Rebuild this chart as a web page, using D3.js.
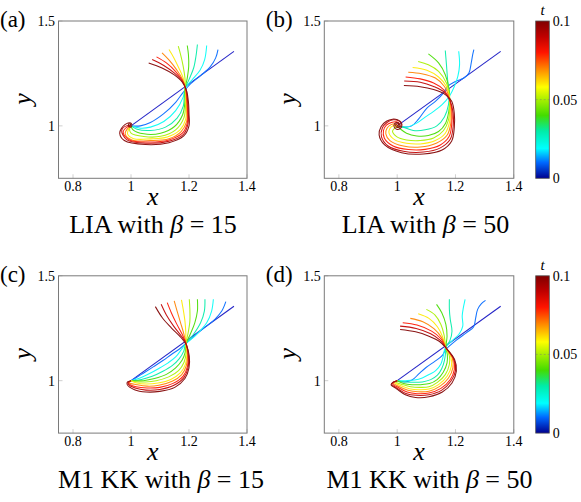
<!DOCTYPE html>
<html>
<head>
<meta charset="utf-8">
<script src="https://cdn.jsdelivr.net/npm/d3@7"></script>
</head>
<body style="margin:0">
<svg id="chart" width="581" height="502"></svg>
<script>
// time of each snapshot (colour of each filament)
const times = [0, 0.01, 0.02, 0.03, 0.04, 0.05, 0.06, 0.07, 0.08, 0.09, 0.1];
const xTicks = [0.8, 1, 1.2, 1.4];
const xTickLabels = ["0.8", "1", "1.2", "1.4"];
const yTicks = [1, 1.5];
const yTickLabels = ["1", "1.5"];
const barTicks = [0, 0.05, 0.1];
const barTickLabels = ["0", "0.05", "0.1"];
const panelLabels = ["(a)", "(b)", "(c)", "(d)"];
const methods = ["LIA", "LIA", "M1 KK", "M1 KK"];
const betas = [15, 50, 15, 50];

// jet-like colormap
const cmapStops = [0, 0.1, 0.19, 0.3, 0.4, 0.5, 0.58, 0.69, 0.8, 0.9, 1];
const cmapColors = ["#00008f", "#0068ff", "#00ffff", "#00eca8", "#44dc00", "#a8f000", "#ffff00", "#ff8c00", "#ff1400", "#c00000", "#800000"];

// filament snapshots, one list of (x, y) points per time, panel (a) LIA beta=15
const curvesA = [
  [[1,1],[1.355,1.355]],
  [[1.000,1.000],[1.032,1.000],[1.067,1.016],[1.113,1.058],[1.154,1.112],[1.180,1.160],[1.206,1.201],[1.240,1.240],[1.273,1.281],[1.292,1.324],[1.300,1.364]],
  [[1.000,1.000],[1.032,0.989],[1.067,0.994],[1.113,1.021],[1.154,1.073],[1.180,1.137],[1.188,1.181],[1.211,1.220],[1.238,1.265],[1.254,1.316],[1.261,1.383]],
  [[1.000,1.000],[1.021,0.984],[1.067,0.978],[1.119,0.994],[1.159,1.037],[1.180,1.093],[1.186,1.176],[1.201,1.224],[1.216,1.276],[1.224,1.332],[1.229,1.388]],
  [[1.000,1.000],[1.007,0.981],[1.044,0.962],[1.102,0.965],[1.150,0.997],[1.178,1.053],[1.186,1.117],[1.186,1.173],[1.194,1.228],[1.199,1.284],[1.198,1.340],[1.194,1.383]],
  [[1.000,1.000],[0.995,0.987],[1.000,0.965],[1.044,0.949],[1.102,0.950],[1.154,0.981],[1.182,1.037],[1.188,1.093],[1.188,1.141],[1.187,1.181],[1.186,1.228],[1.180,1.284],[1.171,1.340],[1.163,1.380]],
  [[1.000,1.000],[0.992,0.984],[0.988,0.962],[1.009,0.939],[1.067,0.938],[1.125,0.947],[1.169,0.981],[1.188,1.029],[1.191,1.085],[1.189,1.137],[1.187,1.181],[1.180,1.228],[1.165,1.276],[1.148,1.324],[1.131,1.364]],
  [[1.000,1.000],[0.988,0.987],[0.980,0.962],[1.003,0.933],[1.067,0.930],[1.131,0.939],[1.173,0.973],[1.192,1.021],[1.193,1.077],[1.191,1.133],[1.188,1.176],[1.177,1.224],[1.157,1.268],[1.133,1.311],[1.107,1.348]],
  [[1.000,1.000],[0.986,0.994],[0.973,0.968],[0.995,0.933],[1.061,0.923],[1.131,0.933],[1.177,0.965],[1.194,1.013],[1.195,1.069],[1.193,1.125],[1.189,1.173],[1.177,1.217],[1.154,1.259],[1.122,1.300],[1.088,1.329]],
  [[1.000,1.000],[0.984,1.000],[0.968,0.978],[0.986,0.933],[1.055,0.917],[1.131,0.927],[1.180,0.958],[1.196,1.006],[1.198,1.061],[1.195,1.120],[1.191,1.169],[1.177,1.212],[1.150,1.251],[1.113,1.288],[1.073,1.316]],
  [[0.995,1.002],[0.999,1.005],[0.995,1.010],[0.991,1.005],[0.993,0.997],[1.000,0.995],[1.003,1.005],[0.999,1.014],[0.990,1.014],[0.979,1.006],[0.968,0.990],[0.961,0.965],[0.977,0.930],[1.050,0.911],[1.131,0.920],[1.182,0.952],[1.200,1.000],[1.200,1.058],[1.198,1.115],[1.192,1.165],[1.177,1.208],[1.148,1.244],[1.107,1.276],[1.061,1.300]]
];

// panel (b) LIA beta=50
const curvesB = [
  [[1,1],[1.355,1.355]],
  [[1.000,1.000],[1.021,0.994],[1.050,1.000],[1.073,1.032],[1.102,1.085],[1.131,1.117],[1.154,1.149],[1.173,1.188],[1.200,1.212],[1.229,1.228],[1.246,1.252],[1.254,1.300],[1.259,1.340],[1.263,1.364]],
  [[1.000,1.000],[1.032,0.994],[1.067,1.013],[1.096,1.042],[1.125,1.069],[1.154,1.101],[1.180,1.144],[1.196,1.188],[1.208,1.236],[1.214,1.292],[1.211,1.356]],
  [[1.000,1.000],[1.021,0.994],[1.055,0.978],[1.096,0.981],[1.136,1.000],[1.162,1.042],[1.176,1.101],[1.178,1.157],[1.173,1.220],[1.169,1.292],[1.165,1.359]],
  [[1.000,1.000],[1.012,0.984],[1.032,0.965],[1.067,0.952],[1.107,0.954],[1.142,0.973],[1.166,1.013],[1.177,1.069],[1.180,1.125],[1.178,1.173],[1.165,1.244],[1.142,1.300],[1.107,1.343]],
  [[1.000,1.000],[0.992,0.990],[0.984,0.974],[0.998,0.949],[1.032,0.933],[1.079,0.930],[1.125,0.942],[1.159,0.978],[1.176,1.029],[1.180,1.085],[1.179,1.141],[1.169,1.204],[1.142,1.260],[1.107,1.291],[1.072,1.307]],
  [[1.000,1.000],[0.986,1.000],[0.975,0.987],[0.972,0.965],[0.992,0.933],[1.032,0.917],[1.079,0.914],[1.131,0.930],[1.165,0.965],[1.180,1.021],[1.182,1.077],[1.180,1.133],[1.169,1.188],[1.142,1.233],[1.102,1.265],[1.053,1.278]],
  [[1.000,1.000],[0.993,1.010],[0.979,1.006],[0.965,0.989],[0.961,0.962],[0.975,0.930],[1.021,0.904],[1.079,0.899],[1.134,0.917],[1.171,0.955],[1.184,1.013],[1.185,1.073],[1.180,1.128],[1.162,1.188],[1.131,1.228],[1.084,1.249],[1.038,1.256]],
  [[1.000,1.000],[1.007,1.010],[0.998,1.019],[0.980,1.016],[0.963,1.003],[0.953,0.978],[0.956,0.941],[0.986,0.904],[1.038,0.887],[1.096,0.888],[1.148,0.909],[1.178,0.949],[1.187,1.005],[1.188,1.069],[1.180,1.125],[1.159,1.173],[1.125,1.204],[1.079,1.224],[1.029,1.233]],
  [[1.000,1.000],[1.009,0.994],[1.014,1.010],[1.005,1.024],[0.986,1.029],[0.965,1.016],[0.949,0.990],[0.946,0.949],[0.969,0.904],[1.021,0.879],[1.090,0.875],[1.148,0.895],[1.182,0.936],[1.192,0.997],[1.192,1.061],[1.182,1.117],[1.162,1.160],[1.125,1.188],[1.079,1.208],[1.024,1.214]],
  [[1.000,1.000],[1.005,1.005],[1.001,1.010],[0.995,1.005],[0.997,0.995],[1.003,0.992],[1.009,1.000],[1.007,1.011],[0.998,1.016],[0.990,1.008],[0.990,0.994],[0.998,0.984],[1.009,0.986],[1.016,1.000],[1.013,1.018],[1.001,1.029],[0.984,1.032],[0.963,1.022],[0.945,0.997],[0.938,0.957],[0.957,0.909],[1.015,0.872],[1.090,0.866],[1.154,0.885],[1.187,0.928],[1.196,0.994],[1.196,1.058],[1.187,1.117],[1.165,1.149],[1.125,1.173],[1.079,1.187],[1.023,1.192]]
];

// panel (c) M1 KK beta=15
const curvesC = [
  [[1,1],[1.355,1.355]],
  [[1.000,1.000],[1.020,1.016],[1.045,1.038],[1.078,1.067],[1.110,1.096],[1.139,1.125],[1.166,1.150],[1.188,1.176],[1.220,1.215],[1.255,1.255],[1.290,1.294],[1.313,1.332],[1.327,1.377]],
  [[1.000,1.000],[1.031,1.013],[1.064,1.034],[1.096,1.058],[1.128,1.085],[1.154,1.113],[1.174,1.149],[1.188,1.174],[1.226,1.220],[1.261,1.276],[1.278,1.332],[1.284,1.388]],
  [[1.000,1.000],[1.036,1.006],[1.073,1.021],[1.110,1.045],[1.143,1.073],[1.166,1.104],[1.182,1.141],[1.188,1.174],[1.215,1.220],[1.240,1.276],[1.253,1.332],[1.255,1.388]],
  [[1.000,1.000],[1.043,1.000],[1.081,1.010],[1.122,1.030],[1.154,1.061],[1.176,1.097],[1.187,1.136],[1.189,1.174],[1.205,1.224],[1.220,1.276],[1.229,1.332],[1.229,1.388]],
  [[1.000,1.000],[1.017,0.995],[1.050,0.994],[1.087,1.000],[1.130,1.018],[1.164,1.048],[1.183,1.088],[1.190,1.131],[1.189,1.174],[1.197,1.228],[1.203,1.284],[1.203,1.340],[1.201,1.388]],
  [[1.000,1.000],[1.020,0.989],[1.052,0.984],[1.093,0.989],[1.137,1.006],[1.171,1.038],[1.188,1.080],[1.193,1.128],[1.189,1.174],[1.189,1.228],[1.186,1.284],[1.180,1.340],[1.174,1.385]],
  [[1.000,1.000],[0.994,0.990],[1.020,0.981],[1.055,0.974],[1.096,0.978],[1.142,0.997],[1.175,1.029],[1.191,1.073],[1.195,1.125],[1.190,1.174],[1.182,1.224],[1.171,1.276],[1.159,1.332],[1.149,1.380]],
  [[1.000,1.000],[0.991,0.990],[0.997,0.981],[1.017,0.971],[1.055,0.965],[1.099,0.968],[1.145,0.987],[1.180,1.022],[1.195,1.069],[1.197,1.121],[1.191,1.173],[1.177,1.220],[1.157,1.272],[1.139,1.324],[1.125,1.372]],
  [[1.000,1.000],[0.990,0.992],[0.992,0.981],[1.014,0.965],[1.052,0.955],[1.099,0.958],[1.148,0.978],[1.183,1.016],[1.197,1.064],[1.198,1.120],[1.191,1.173],[1.174,1.212],[1.147,1.260],[1.122,1.313],[1.104,1.364]],
  [[1.000,1.000],[0.988,0.994],[0.987,0.981],[1.012,0.957],[1.052,0.946],[1.099,0.949],[1.151,0.968],[1.186,1.010],[1.200,1.061],[1.201,1.117],[1.191,1.169],[1.171,1.208],[1.139,1.252],[1.108,1.300],[1.084,1.353]]
];

// panel (d) M1 KK beta=50
const curvesD = [
  [[1,1],[1.355,1.355]],
  [[1.000,1.000],[1.026,0.994],[1.051,1.003],[1.074,1.032],[1.100,1.064],[1.130,1.093],[1.155,1.121],[1.167,1.149],[1.202,1.192],[1.237,1.228],[1.262,1.256],[1.269,1.297],[1.276,1.340],[1.289,1.367],[1.303,1.383]],
  [[1.000,1.000],[1.030,1.000],[1.060,1.003],[1.086,1.013],[1.109,1.029],[1.132,1.048],[1.150,1.080],[1.158,1.117],[1.165,1.157],[1.190,1.192],[1.213,1.224],[1.225,1.260],[1.223,1.308],[1.227,1.348],[1.233,1.388]],
  [[1.000,1.000],[1.028,0.994],[1.057,0.992],[1.086,0.994],[1.115,1.005],[1.138,1.026],[1.153,1.058],[1.162,1.096],[1.166,1.133],[1.167,1.160],[1.181,1.192],[1.188,1.236],[1.182,1.292],[1.179,1.340],[1.179,1.388]],
  [[1.000,1.000],[1.022,0.987],[1.051,0.981],[1.081,0.981],[1.111,0.986],[1.137,1.005],[1.158,1.040],[1.171,1.085],[1.172,1.125],[1.167,1.157],[1.171,1.212],[1.167,1.268],[1.153,1.324],[1.135,1.364]],
  [[1.000,1.000],[0.993,0.994],[1.019,0.981],[1.046,0.971],[1.078,0.968],[1.109,0.971],[1.138,0.992],[1.165,1.029],[1.179,1.077],[1.179,1.118],[1.167,1.157],[1.161,1.217],[1.150,1.268],[1.130,1.313],[1.100,1.340]],
  [[1.000,1.000],[0.990,0.992],[1.013,0.976],[1.042,0.962],[1.074,0.957],[1.109,0.960],[1.142,0.981],[1.171,1.021],[1.186,1.069],[1.184,1.113],[1.167,1.157],[1.155,1.212],[1.138,1.257],[1.109,1.297],[1.072,1.319]],
  [[1.000,1.000],[0.986,0.990],[1.008,0.971],[1.037,0.954],[1.072,0.947],[1.109,0.950],[1.146,0.973],[1.176,1.013],[1.191,1.061],[1.189,1.109],[1.167,1.157],[1.153,1.204],[1.126,1.248],[1.088,1.281],[1.045,1.297]],
  [[1.000,1.000],[0.984,0.987],[1.005,0.966],[1.034,0.946],[1.068,0.938],[1.109,0.941],[1.150,0.963],[1.181,1.003],[1.196,1.053],[1.193,1.104],[1.167,1.157],[1.150,1.200],[1.118,1.236],[1.068,1.265],[1.019,1.276]],
  [[1.000,1.000],[0.981,0.984],[1.001,0.963],[1.030,0.939],[1.065,0.930],[1.109,0.933],[1.153,0.955],[1.184,0.997],[1.200,1.048],[1.195,1.101],[1.167,1.157],[1.147,1.193],[1.115,1.224],[1.065,1.249],[1.010,1.260]],
  [[1.000,1.000],[0.987,0.994],[0.979,0.981],[0.999,0.960],[1.028,0.933],[1.063,0.920],[1.109,0.923],[1.155,0.946],[1.188,0.989],[1.203,1.045],[1.197,1.101],[1.167,1.157],[1.144,1.188],[1.109,1.212],[1.063,1.233],[1.010,1.244]]
];

const allCurves = [curvesA, curvesB, curvesC, curvesD];

// where each panel sits on the page
const frames = [
  {x: 58.5, y: 21, w: 188.5, h: 157.3, titleX: 153, bar: false},
  {x: 324.3, y: 21, w: 189.5, h: 157.3, titleX: 425.5, bar: true},
  {x: 58.5, y: 275.8, w: 188.5, h: 157.3, titleX: 161, bar: false},
  {x: 324.3, y: 275.8, w: 189.5, h: 157.3, titleX: 429.5, bar: true}
];

const svg = d3.select("#chart");
const tMax = 0.1;
const color = d3.scaleLinear().domain(cmapStops.map(s => s * tMax)).range(cmapColors).interpolate(d3.interpolateRgb);
// thin anti-aliased strokes look a touch lighter than the colorbar
const strokeColor = t => t === 0 ? d3.interpolateRgb(color(t), "#4848ff")(0.5) : d3.interpolateRgb(color(t), "#ffffff")(0.08);

// gradient for the colorbars
const grad = svg.append("defs").append("linearGradient")
  .attr("id", "jet").attr("x1", 0).attr("y1", 1).attr("x2", 0).attr("y2", 0);
grad.selectAll("stop").data(cmapStops).enter().append("stop")
  .attr("offset", d => d)
  .attr("stop-color", (d, i) => cmapColors[i]);

// all texts of the figure, collected and then drawn straight on the svg
const texts = [];

function drawPanel(f, curves, i) {
  const x = d3.scaleLinear().domain([0.75, 1.4]).range([f.x, f.x + f.w]);
  const y = d3.scaleLinear().domain([0.75, 1.5]).range([f.y + f.h, f.y]);
  const g = svg.append("g");

  // light tick marks inside the box
  g.selectAll(".xt").data(xTicks).enter().append("line")
    .attr("x1", d => x(d)).attr("x2", d => x(d))
    .attr("y1", f.y + f.h).attr("y2", f.y + f.h - 4)
    .attr("stroke", "#c4c4c4").attr("stroke-width", 0.8);
  g.selectAll(".yt").data(yTicks).enter().append("line")
    .attr("x1", f.x).attr("x2", f.x + 4)
    .attr("y1", d => y(d)).attr("y2", d => y(d))
    .attr("stroke", "#c4c4c4").attr("stroke-width", 0.8);

  const line = d3.line()
    .x(d => x(d[0])).y(d => y(d[1]))
    .curve(d3.curveCatmullRom.alpha(0.5));

  g.selectAll("path.fil").data(curves).enter().append("path")
    .attr("class", "fil")
    .attr("d", line)
    .attr("fill", "none")
    .attr("stroke", (d, k) => strokeColor(times[k]))
    .attr("stroke-width", 1.05)
    .attr("stroke-linejoin", "round");

  g.append("rect")
    .attr("x", f.x).attr("y", f.y).attr("width", f.w).attr("height", f.h)
    .attr("fill", "none").attr("stroke", "#7a7a7a").attr("stroke-width", 1);

  xTicks.forEach((d, k) => texts.push({x: x(d), y: f.y + f.h + 13, s: 14, a: "middle", t: xTickLabels[k]}));
  yTicks.forEach((d, k) => texts.push({x: f.x - 3.5, y: y(d) + 5, s: 14, a: "end", t: yTickLabels[k]}));
  texts.push({x: f.x + f.w / 2, y: f.y + 184, s: 26, a: "middle", it: true, t: "x"});
  texts.push({x: f.x - 28, y: f.y + 78, s: 26, a: "middle", it: true, rot: true, t: "y"});
  texts.push({x: f.x - 58.5, y: f.y + 6, s: 23, a: "start", t: panelLabels[i]});
  texts.push({x: f.titleX, y: f.y + 212, s: 26, a: "middle", title: i});

  if (f.bar) {
    const bx = 535.7, bw = 13.6;
    const by = d3.scaleLinear().domain([0, tMax]).range([f.y + f.h, f.y]);
    g.append("rect")
      .attr("x", bx).attr("y", f.y).attr("width", bw).attr("height", f.h)
      .attr("fill", "url(#jet)").attr("stroke", "#555").attr("stroke-width", 0.8);
    g.selectAll(".bt").data(barTicks.filter(d => d > 0 && d < tMax)).enter().append("line")
      .attr("x1", bx).attr("x2", bx + bw)
      .attr("y1", d => by(d)).attr("y2", d => by(d))
      .attr("stroke", "rgba(120,120,120,0.55)").attr("stroke-width", 0.8)
      .attr("stroke-dasharray", "2,2");
    barTicks.forEach((d, k) => texts.push({x: bx + bw + 3.5, y: by(d) + 5, s: 14, a: "start", t: barTickLabels[k]}));
    texts.push({x: bx + bw / 2, y: f.y - 6, s: 15, a: "middle", it: true, t: "t"});
  }
}

frames.forEach((f, i) => drawPanel(f, allCurves[i], i));

const label = svg.selectAll("text.lab").data(texts).enter().append("text")
  .attr("class", "lab")
  .attr("x", d => d.rot ? 0 : d.x)
  .attr("y", d => d.rot ? 0 : d.y)
  .attr("transform", d => d.rot ? `translate(${d.x},${d.y}) rotate(-90)` : null)
  .attr("font-size", d => d.s)
  .attr("text-anchor", d => d.a)
  .attr("font-style", d => d.it ? "italic" : null)
  .style("font-family", d => `"Liberation Serif"`);

label.filter(d => d.title === undefined).text(d => d.t);
label.filter(d => d.title !== undefined).each(function (d) {
  const el = d3.select(this);
  el.append("tspan").text(methods[d.title] + " with ");
  el.append("tspan").attr("font-style", "italic").text("β");
  el.append("tspan").text(" = " + betas[d.title]);
});
</script>
</body>
</html>
